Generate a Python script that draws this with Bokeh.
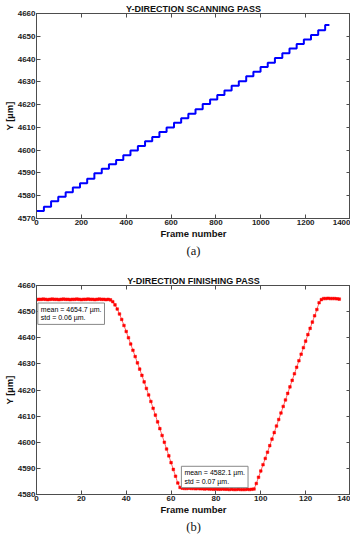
from bokeh.plotting import figure
from bokeh.layouts import column
from bokeh.models import LinearAxis, Title, Label, FixedTicker, CustomJSTickFormatter, Range1d
from bokeh.embed import file_html
from bokeh.resources import INLINE

# ---- (a) scanning pass: staircase (step start frame, level in um)
scan_step_frames = [0, 33, 65, 97, 130, 162, 194, 226, 258, 291, 323, 355, 387, 419,
                    452, 484, 516, 548, 580, 613, 645, 677, 709, 741, 774, 806, 838,
                    870, 902, 935, 967, 999, 1031, 1063, 1096, 1128, 1160, 1192, 1224,
                    1256, 1287, 1306]
scan_levels = [4573.3, 4575.2, 4577.6, 4579.6, 4581.5, 4583.6, 4585.5, 4587.4, 4589.9,
               4591.8, 4593.8, 4595.7, 4597.8, 4599.8, 4601.8, 4603.9, 4605.8, 4608.0,
               4610.0, 4612.0, 4614.0, 4616.0, 4618.0, 4620.3, 4622.2, 4624.2, 4626.2,
               4628.3, 4630.3, 4632.4, 4634.4, 4636.5, 4638.4, 4640.5, 4642.6, 4644.6,
               4646.6, 4648.6, 4650.6, 4652.7, 4655.0, 4655.0]

# ---- (b) finishing pass: one value per frame, frames 0..135
finish_frames = list(range(136))
finish_y = [
    # 0-32 plateau
    4654.6, 4654.7, 4654.7, 4654.8, 4654.7, 4654.6, 4654.7, 4654.8, 4654.7, 4654.7,
    4654.6, 4654.7, 4654.8, 4654.7, 4654.7, 4654.6, 4654.7, 4654.7, 4654.8, 4654.7,
    4654.6, 4654.7, 4654.7, 4654.8, 4654.7, 4654.7, 4654.6, 4654.7, 4654.8, 4654.7,
    4654.7, 4654.6, 4654.7,
    # 33-64 descent
    4654.5, 4653.8, 4652.6, 4651.0, 4649.1, 4647.0, 4644.7, 4642.4, 4640.0, 4637.6,
    4635.2, 4632.8, 4630.4, 4628.0, 4625.6, 4623.1, 4620.6, 4618.1, 4615.6, 4613.0,
    4610.4, 4607.8, 4605.2, 4602.6, 4600.0, 4597.4, 4594.8, 4592.2, 4589.6, 4587.0,
    4584.4, 4582.7,
    # 65-97 bottom plateau
    4582.4, 4582.3, 4582.3, 4582.4, 4582.3, 4582.3, 4582.2, 4582.3, 4582.2, 4582.2,
    4582.1, 4582.2, 4582.1, 4582.1, 4582.0, 4582.1, 4582.0, 4582.0, 4582.1, 4582.0,
    4582.0, 4581.9, 4582.0, 4581.9, 4581.9, 4582.0, 4581.9, 4581.9, 4581.9, 4582.0,
    4581.9, 4582.0, 4582.1,
    # 98-127 rise
    4584.2, 4586.6, 4589.0, 4591.4, 4593.8, 4596.2, 4598.7, 4601.2, 4603.7, 4606.2,
    4608.7, 4611.2, 4613.7, 4616.2, 4618.7, 4621.2, 4623.7, 4626.2, 4628.7, 4631.2,
    4633.7, 4636.2, 4638.7, 4641.2, 4643.6, 4646.0, 4648.4, 4650.8, 4653.4, 4654.6,
    # 128-135 top plateau
    4655.0, 4655.0, 4655.1, 4655.0, 4655.0, 4655.0, 4654.9, 4654.8,
]

scan_xticks = [0, 200, 400, 600, 800, 1000, 1200, 1400]
scan_yticks = [4570, 4580, 4590, 4600, 4610, 4620, 4630, 4640, 4650, 4660]
finish_xticks = [0, 20, 40, 60, 80, 100, 120, 140]
finish_yticks = [4580, 4590, 4600, 4610, 4620, 4630, 4640, 4650, 4660]

box1_text = "mean = 4654.7 µm.\nstd = 0.06 µm."
box2_text = "mean = 4582.1 µm.\nstd = 0.07 µm."

SANS = "Liberation Sans"
AX = "#4d4d4d"


def style_axis(ax, ticks, labels=True):
    ax.ticker = FixedTicker(ticks=ticks)
    ax.major_tick_in = 4
    ax.major_tick_out = 0
    ax.minor_tick_line_color = None
    ax.axis_line_color = AX
    ax.major_tick_line_color = AX
    ax.major_label_text_font = SANS
    ax.major_label_text_font_size = "8px"
    ax.major_label_text_font_style = "bold"
    ax.major_label_text_color = "#222222"
    ax.major_label_standoff = 1
    ax.axis_label_text_font = SANS
    ax.axis_label_text_font_size = "9.5px"
    ax.axis_label_text_font_style = "bold"
    ax.axis_label_text_color = "#111111"
    ax.axis_label_standoff = 0
    if not labels:
        ax.formatter = CustomJSTickFormatter(code="return ''")
        ax.major_label_standoff = 0
        ax.major_label_text_font_size = "1px"


def make_fig(title, caption, height, xr, yr, xticks, yticks, top, bottom):
    p = figure(width=350, height=height, x_range=Range1d(*xr), y_range=Range1d(*yr),
               output_backend="svg", toolbar_location=None,
               min_border_left=28, min_border_right=0,
               min_border_top=top, min_border_bottom=bottom)
    p.title.text = title
    p.title.align = "center"
    p.title.text_font = SANS
    p.title.text_font_size = "9px"
    p.title.text_font_style = "bold"
    p.title.text_color = "#111111"
    p.title.standoff = 0
    p.xgrid.visible = False
    p.ygrid.visible = False
    p.outline_line_color = AX
    p.background_fill_color = "white"
    p.border_fill_color = "white"
    style_axis(p.xaxis[0], xticks)
    style_axis(p.yaxis[0], yticks)
    p.xaxis.axis_label = "Frame number"
    p.yaxis.axis_label = "Y [µm]"
    ta = LinearAxis()
    style_axis(ta, xticks, labels=False)
    p.add_layout(ta, "above")
    ra = LinearAxis()
    style_axis(ra, yticks, labels=False)
    p.add_layout(ra, "right")
    cap = Title(text=caption, align="center", text_font="Liberation Serif",
                text_font_size="12.5px", text_font_style="normal", text_color="#111111",
                standoff=0, offset=-8)
    p.add_layout(cap, "below")
    return p


p1 = make_fig("Y-DIRECTION SCANNING PASS", "(a)", 258, (0, 1400), (4570, 4660),
              scan_xticks, scan_yticks, 13, 40)
p1.step(x=scan_step_frames, y=scan_levels, mode="after", line_width=2, line_color="#0000ff")

p2 = make_fig("Y-DIRECTION FINISHING PASS", "(b)", 276, (0, 140), (4580, 4660),
              finish_xticks, finish_yticks, 27, 40)
p2.line(x=finish_frames, y=finish_y, line_width=1, line_color="#ff6666")
p2.scatter(x=finish_frames, y=finish_y, size=2.6, marker="square",
           fill_color="#ff0000", line_color="#ff0000", line_width=0.5)

for (bx, by, txt) in [(0.6, 4653.3, box1_text), (64.6, 4590.8, box2_text)]:
    lab = Label(x=bx, y=by, text=txt, anchor="top_left", text_font=SANS,
                text_font_size="7px", text_color="#000000",
                border_line_color="#888888", border_line_width=1,
                background_fill_color="white", padding=3)
    p2.add_layout(lab)

layout = column(p1, p2, spacing=0)
open("out.html", "w").write(file_html(layout, INLINE))
